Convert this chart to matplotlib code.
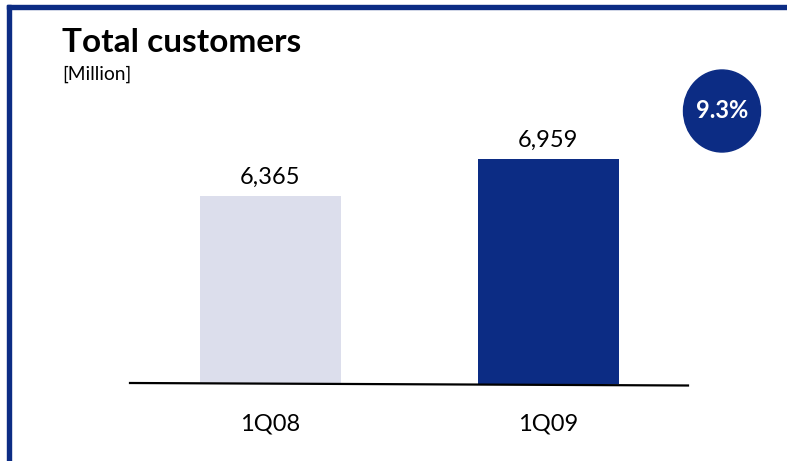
import matplotlib
matplotlib.use("Agg")
import matplotlib.pyplot as plt
from matplotlib.patches import Ellipse, Rectangle
from matplotlib.lines import Line2D

# Customer totals, millions
quarters = ["1Q08", "1Q09"]
customers = [6365, 6959]
growth_label = "9.3%"

navy = "#0c2c84"
pale = "#dcdeec"
font = "Lato"

W, H = 787, 461
fig = plt.figure(figsize=(W / 100, H / 100), dpi=100)


def px(x, y):
    # pixel position (from top-left) to figure fraction
    return x / W, 1 - y / H


# frame: top and left rules
fig.patches.append(Rectangle(px(7, 9), 1, 4 / H, transform=fig.transFigure,
                             color=navy, zorder=0))
fig.patches.append(Rectangle((7 / W, 0), 4 / W, 1 - 5 / H, transform=fig.transFigure,
                             color=navy, zorder=0))

ax = fig.add_axes([130 / W, 1 - 384 / H, 558 / W, 304 / H])
ax.set_facecolor("none")
x = range(len(quarters))
bars = ax.bar(x, customers, width=0.507, color=[pale, navy])
ax.set_xlim(-0.505, 1.502)
ax.set_ylim(3347, 8227)

for b, v in zip(bars, customers):
    ax.annotate(f"{v:,}", (b.get_x() + b.get_width() / 2, v),
                xytext=(0, 6), textcoords="offset points",
                ha="center", va="bottom", fontsize=17, family=font)

ax.set_xticks(list(x))
ax.set_xticklabels(quarters, fontsize=17, family=font)
ax.tick_params(axis="x", length=0, pad=21.5)
ax.set_yticks([])
for s in ax.spines.values():
    s.set_visible(False)

# baseline, drawn with a slight downward slope
x0, y0 = px(130, 383)
x1, y1 = px(688, 385.5)
fig.lines.append(Line2D([x0, x1], [y0, y1], transform=fig.transFigure,
                        color="black", lw=1.6))

fig.text(*px(62, 52), "Total customers", fontsize=24, fontweight="bold",
         family=font, va="baseline", ha="left")
fig.text(*px(62, 80), "[Million]", fontsize=13.8, family=font,
         va="baseline", ha="left")

# growth badge
cx, cy = px(722, 111)
fig.patches.append(Ellipse((cx, cy), 77 / W, 82 / H, transform=fig.transFigure,
                           color=navy))
fig.text(cx, cy, growth_label, color="white", fontsize=17, fontweight="bold",
         family=font, ha="center", va="center")

fig.savefig("out.png", dpi=100)
